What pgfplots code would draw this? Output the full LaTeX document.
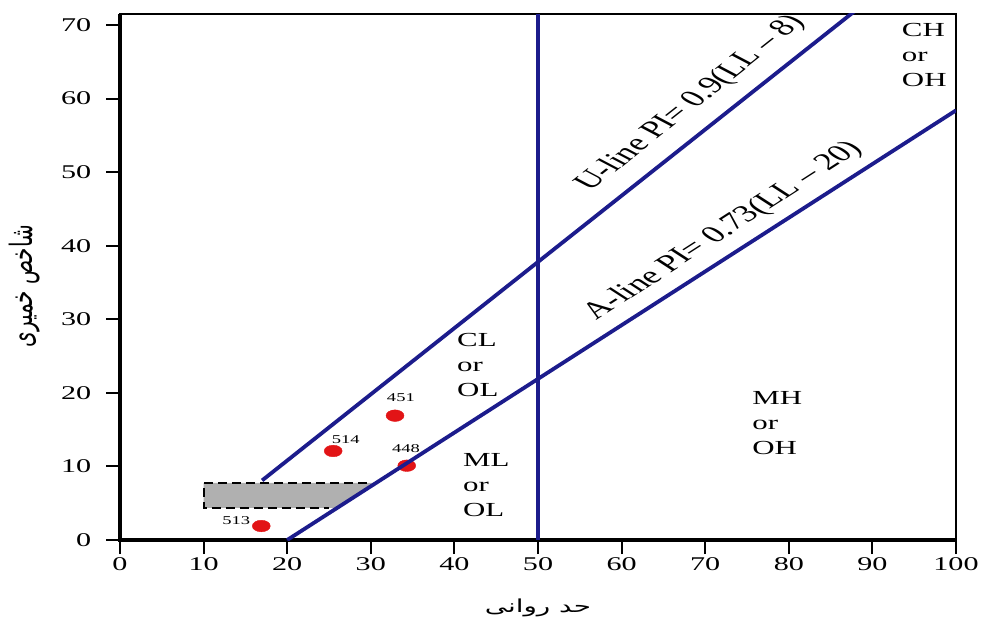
\documentclass[border=0pt]{standalone}
\usepackage{fontspec}
\setmainfont{Liberation Serif}
\newfontfamily\arabicfont[Script=Arabic]{DejaVu Sans}
\TeXXeTstate=1
\usepackage{pgfplots}
\pgfplotsset{compat=1.18}
\definecolor{lineblue}{RGB}{28,28,140}
\definecolor{ptred}{RGB}{226,20,22}
\definecolor{boxgray}{RGB}{176,176,176}
\begin{document}
\begin{tikzpicture}
\useasboundingbox (-120bp,-77bp) rectangle (861bp,540bp);
\begin{axis}[
  at={(0,0)}, anchor=south west,
  scale only axis, width=836bp, height=526bp,
  xmin=0, xmax=100, ymin=0, ymax=71.5,
  xtick={0,10,...,100}, ytick={0,10,...,70},
  tick pos=left, tick align=outside,
  major tick length=14bp,
  tick style={black, line width=2bp},
  axis line style={black, line width=2.4bp},
  /pgf/number format/assume math mode=true,
  tick label style={font=\fontsize{19.5}{20}\selectfont, xscale=1.55, transform shape},
  yticklabel style={xshift=-6bp},
  clip mode=individual,
]
\draw[line width=3.5bp] (rel axis cs:0,1) -- (rel axis cs:0,0) -- (rel axis cs:1,0);
% grey zone
\addplot[fill=boxgray, draw=none] coordinates {(10,4.35) (26,4.35) (30.6,7.75) (10,7.75)} -- cycle;
\addplot[black, line width=2bp, dash pattern=on 9bp off 5bp] coordinates {(29.5,7.75) (10,7.75) (10,4.35) (25,4.35)};
% samples
\addplot[only marks, mark=*, mark size=5.8bp, color=ptred, mark options={xscale=1.55}] coordinates {(16.9,1.9) (25.5,12.1) (32.9,16.9) (34.3,10.1)};
% lines
\addplot[lineblue, line width=3.8bp] coordinates {(17,8.1) (88,72)};
\addplot[lineblue, line width=3.8bp] coordinates {(20,0) (100,58.4)};
\addplot[lineblue, line width=3.2bp] coordinates {(50,0) (50,71.5)};
% line labels
\node[anchor=base west, font=\fontsize{24}{24}\selectfont, xscale=1.55, rotate=50.8, transform shape, inner sep=0] at (axis cs:56.3,47.3) {U-line PI= 0.9(LL -- 8)};
\node[anchor=base west, font=\fontsize{24}{24}\selectfont, xscale=1.55, rotate=44.9, transform shape, inner sep=0] at (axis cs:57.0,29.8) {A-line PI= 0.73(LL -- 20)};
% zone labels
\node[anchor=north west, align=left, font=\fontsize{20}{25}\selectfont, xscale=1.55, transform shape, inner sep=0] at (axis cs:93.5,70.2) {CH\\or\\OH};
\node[anchor=north west, align=left, font=\fontsize{20}{25}\selectfont, xscale=1.55, transform shape, inner sep=0] at (axis cs:40.3,28.1) {CL\\or\\OL};
\node[anchor=north west, align=left, font=\fontsize{20}{25}\selectfont, xscale=1.55, transform shape, inner sep=0] at (axis cs:41.0,11.8) {ML\\or\\OL};
\node[anchor=north west, align=left, font=\fontsize{20}{25}\selectfont, xscale=1.55, transform shape, inner sep=0] at (axis cs:75.6,20.2) {MH\\or\\OH};
% point labels
\node[font=\fontsize{12}{12}\selectfont, xscale=1.55, transform shape, inner sep=0] at (axis cs:13.9,2.6) {513};
\node[font=\fontsize{12}{12}\selectfont, xscale=1.55, transform shape, inner sep=0] at (axis cs:27.0,13.7) {514};
\node[font=\fontsize{12}{12}\selectfont, xscale=1.55, transform shape, inner sep=0] at (axis cs:33.6,19.3) {451};
\node[font=\fontsize{12}{12}\selectfont, xscale=1.55, transform shape, inner sep=0] at (axis cs:34.2,12.4) {448};
% axis titles
\node[font=\arabicfont\fontsize{18}{18}\selectfont, xscale=1.55, transform shape, yshift=-68bp] at (rel axis cs:0.5,0) {\beginR حد روانی\endR};
\node[font=\arabicfont\fontsize{20}{20}\selectfont, xscale=1.55, rotate=90, transform shape] at (axis cs:-11.4,34.5) {\beginR شاخص خمیری\endR};
\end{axis}
\end{tikzpicture}
\end{document}
